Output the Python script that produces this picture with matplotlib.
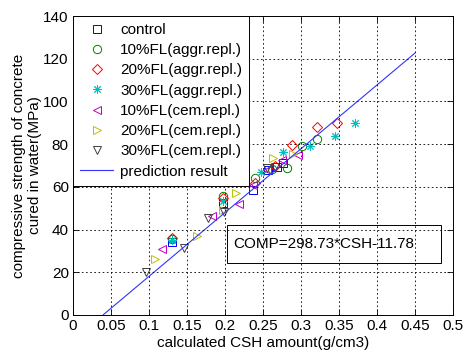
import matplotlib
matplotlib.use("Agg")
import matplotlib.pyplot as plt
import numpy as np
from matplotlib.patches import Rectangle

plt.rcParams["font.family"] = ["Liberation Sans", "DejaVu Sans"]
plt.rcParams["font.size"] = 11

# (CSH g/cm3, strength MPa) per mix series
control_x = [0.130, 0.197, 0.237, 0.257, 0.268, 0.276]
control_y = [34.0, 52.5, 58.5, 68.0, 69.5, 71.2]

aggr10_x = [0.130, 0.197, 0.240, 0.262, 0.281, 0.301, 0.321]
aggr10_y = [35.5, 55.7, 64.0, 68.5, 68.8, 79.0, 82.4]

aggr20_x = [0.130, 0.197, 0.240, 0.266, 0.288, 0.321, 0.347]
aggr20_y = [36.0, 54.6, 62.0, 69.8, 79.6, 88.0, 89.9]

aggr30_x = [0.130, 0.197, 0.248, 0.276, 0.312, 0.345, 0.371]
aggr30_y = [35.0, 53.4, 67.0, 76.3, 79.0, 83.8, 89.9]

cem10_x = [0.117, 0.183, 0.218, 0.237, 0.255, 0.275, 0.296]
cem10_y = [30.9, 46.3, 52.0, 61.0, 68.0, 72.6, 74.9]

cem20_x = [0.108, 0.163, 0.197, 0.215, 0.263, 0.290]
cem20_y = [26.2, 37.0, 49.0, 57.1, 73.5, 75.4]

cem30_x = [0.096, 0.146, 0.178, 0.199, 0.255, 0.266]
cem30_y = [20.3, 31.4, 45.4, 48.2, 68.8, 69.3]

# prediction: COMP = 298.73*CSH - 11.78
slope, icpt = 298.73, -11.78
fit_x = np.array([0.04, 0.45])

series = [
    (control_x, control_y, "s", (0, 0, 1), "control"),
    (aggr10_x, aggr10_y, "o", (0, 0.5, 0), "10%FL(aggr.repl.)"),
    (aggr20_x, aggr20_y, "D", (1, 0, 0), "20%FL(aggr.repl.)"),
    (aggr30_x, aggr30_y, (8, 2, 0), (0, 0.75, 0.75), "30%FL(aggr.repl.)"),
    (cem10_x, cem10_y, "<", (0.75, 0, 0.75), "10%FL(cem.repl.)"),
    (cem20_x, cem20_y, ">", (0.75, 0.75, 0), "20%FL(cem.repl.)"),
    (cem30_x, cem30_y, "v", (0.25, 0.25, 0.25), "30%FL(cem.repl.)"),
]

fig = plt.figure(figsize=(4.66, 3.55), dpi=100)
ax = fig.add_axes([73 / 466, 40 / 355, 380 / 466, 299 / 355])

for xs, ys, mk, col, lbl in series:
    ms = 5 if mk == "D" else 6
    ax.plot(xs, ys, linestyle="none", marker=mk, markersize=ms,
            markerfacecolor="none", markeredgecolor=col, markeredgewidth=0.7,
            label=lbl)

ax.plot(fit_x, slope * fit_x + icpt, color=(0.2, 0.2, 1), lw=0.8,
        label="prediction result")

ax.set_xlim(0, 0.5)
ax.set_ylim(0, 140)
ax.set_xticks(np.arange(0, 0.51, 0.05))
ax.set_xticklabels(["0", "0.05", "0.1", "0.15", "0.2", "0.25", "0.3",
                    "0.35", "0.4", "0.45", "0.5"])
ax.set_yticks(np.arange(0, 141, 20))
ax.tick_params(direction="in", length=4, width=0.6, top=True, right=True, pad=3)
ax.grid(True, linestyle=(0, (2, 3)), color="black", lw=0.6)
ax.set_axisbelow(False)
for sp in ax.spines.values():
    sp.set_linewidth(0.7)

ax.set_xlabel("calculated CSH amount(g/cm3)", labelpad=2)
ax.set_ylabel("compressive strength of concrete\ncured in water(MPa)", labelpad=1)

ax.add_patch(Rectangle((0.203, 24.4), 0.281, 17.6, facecolor="white",
                       edgecolor="black", lw=0.7, zorder=1.5))
ax.text(0.2105, 33.3, "COMP=298.73*CSH-11.78", va="center", ha="left", zorder=1.6)

leg = ax.legend(loc="upper left", borderaxespad=0, fancybox=False,
                framealpha=1, edgecolor="black", handlelength=2.2,
                handletextpad=0.45, labelspacing=0.41, borderpad=0.45)
leg.get_frame().set_linewidth(0.7)
leg.set_zorder(5)

fig.savefig("out.png", dpi=100)
